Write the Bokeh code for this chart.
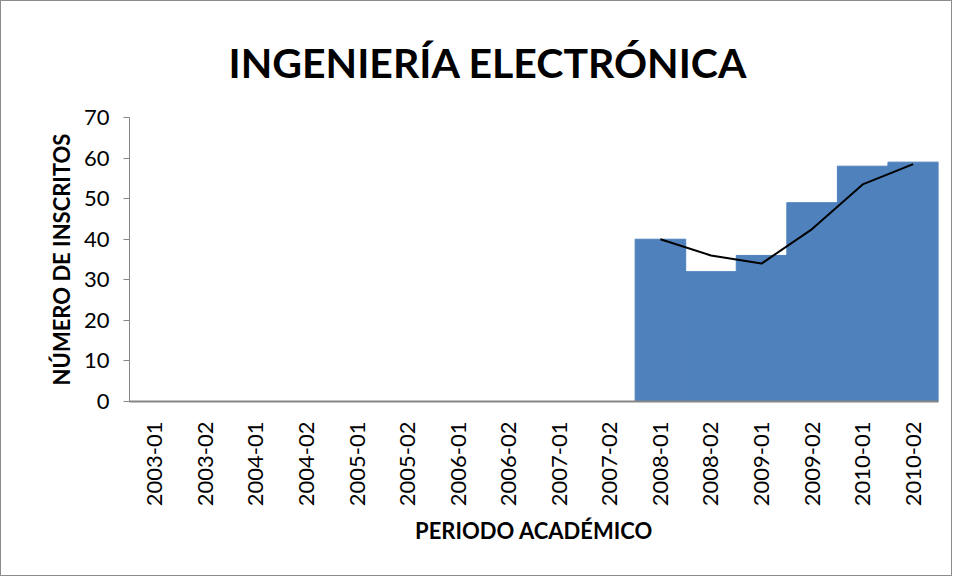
import math
from bokeh.plotting import figure
from bokeh.models import FactorRange, Range1d, SingleIntervalTicker, ColumnDataSource
from bokeh.embed import file_html
from bokeh.resources import INLINE

periodos = ["2003-01", "2003-02", "2004-01", "2004-02", "2005-01", "2005-02",
            "2006-01", "2006-02", "2007-01", "2007-02", "2008-01", "2008-02",
            "2009-01", "2009-02", "2010-01", "2010-02"]
inscritos = [0, 0, 0, 0, 0, 0, 0, 0, 0, 0, 40, 32, 36, 49, 58, 59]
periodos_media = ["2008-01", "2008-02", "2009-01", "2009-02", "2010-01", "2010-02"]
media_movil = [40, 36, 34, 42.5, 53.5, 58.5]

FONT = "Lato"

p = figure(width=952, height=576, output_backend="svg", toolbar_location=None,
           x_range=FactorRange(*periodos, range_padding=0),
           y_range=Range1d(0, 70),
           min_border_left=128, min_border_top=116, min_border_bottom=176,
           min_border_right=15)

p.styles = {"border": "1px solid #8c8c8c", "box-sizing": "border-box"}

src = ColumnDataSource(dict(x=periodos, top=inscritos))
p.vbar(x="x", top="top", width=1.0, source=src, fill_color="#4F81BD",
       line_color="#4F81BD", line_width=1)
p.line(periodos_media, media_movil, line_color="black", line_width=2)

p.title.text = "INGENIERÍA ELECTRÓNICA"
p.title.text_font = FONT
p.title.text_font_size = "41px"
p.title.text_font_style = "bold"
p.title.text_color = "black"
p.title.align = "left"
p.title.offset = 99
p.title.standoff = 62

p.xgrid.visible = False
p.ygrid.visible = False
p.outline_line_color = None

p.yaxis.ticker = SingleIntervalTicker(interval=10)
p.yaxis.minor_tick_line_color = None
p.yaxis.major_tick_in = 0
p.yaxis.major_tick_out = 6
p.yaxis.major_label_standoff = 14
p.yaxis.major_label_text_font = FONT
p.yaxis.major_label_text_font_size = "22px"
p.yaxis.major_label_text_color = "black"
p.yaxis.axis_line_color = "#868686"
p.yaxis.major_tick_line_color = "#868686"
p.yaxis.axis_label = "NÚMERO DE INSCRITOS"
p.yaxis.axis_label_text_font = FONT
p.yaxis.axis_label_text_font_size = "22px"
p.yaxis.axis_label_text_font_style = "bold"
p.yaxis.axis_label_text_color = "black"
p.yaxis.axis_label_standoff = 6

p.xaxis.major_tick_in = 0
p.xaxis.major_tick_out = 0
p.xaxis.major_label_orientation = math.pi / 2
p.xaxis.major_label_standoff = 20
p.xaxis.major_label_text_font = FONT
p.xaxis.major_label_text_font_size = "22px"
p.xaxis.major_label_text_color = "black"
p.xaxis.axis_line_color = "#868686"
p.xaxis.axis_line_width = 2
p.xaxis.axis_label = "PERIODO ACADÉMICO"
p.xaxis.axis_label_text_font = FONT
p.xaxis.axis_label_text_font_size = "22px"
p.xaxis.axis_label_text_font_style = "bold"
p.xaxis.axis_label_text_color = "black"
p.xaxis.axis_label_standoff = 8

open("out.html", "w").write(file_html(p, INLINE))
